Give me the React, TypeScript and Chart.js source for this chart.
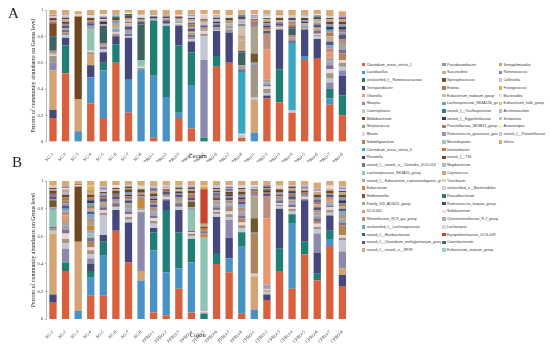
import React, { useEffect, useRef } from "react";
import { Chart, registerables } from "chart.js";
Chart.register(...registerables);

const samples = ["SG-1","SG-2","SG-3","SG-4","SG-5","SG-6","SG-7","SG-8","FPRO-1","FPRO-2","FPRO-3","FPRO-4","FPRO-5","FPRO-6","FPRO-7","FPRO-8","CPRO-1","CPRO-2","CPRO-3","CPRO-4","CPRO-5","CPRO-6","CPRO-7","CPRO-8"];
const yTickValues = [0, 20, 40, 60, 80, 100];
const panelTitles = ["Cecum", "Colon"];
const yTitle = "Percent of community abundance on Genus level";

const genera = [
  "Clostridium_sensu_stricto_1","Lactobacillus","unclassified_f__Ruminococcaceae","Terrisporobacter","Olsenella","Sharpea","Catenisphaera","Bifidobacterium","Streptococcus","Blautia","Subdoligranulum","Clostridium_sensu_stricto_6","Prevotella","norank_f__norank_o__Clostridia_UCG-014","Lachnospiraceae_NK3A20_group","norank_f__Eubacterium_coprostanoligenes_group","Eubacterium","Holdemanella","Family_XIII_AD3011_group","UCG-005","Rikenellaceae_RC9_gut_group","unclassified_f__Lachnospiraceae","norank_f__Muribaculaceae","norank_f__Clostridium_methylpentosum_group","norank_f__norank_o__RF39",
  "Pseudoramibacter","Succinivibrio","Syntrophococcus","Erwinia","Eubacterium_nodatum_group","Lachnospiraceae_NK4A136_group","norank_f__Oscillospiraceae","norank_f__Eggerthellaceae","Prevotellaceae_NK3B31_group","Ruminococcus_gauvreauii_group","Marvinbryantia","Intestinibacter","norank_f__T34","Mogibacterium","Coprococcus","Turicibacter","unclassified_o__Bacteroidales","Faecalibacterium","Ruminococcus_torques_group","Solobacterium","Christensenellaceae_R-7_group","Lachnospira","Erysipelotrichaceae_UCG-009","Catenibacterium","Eubacterium_siraeum_group",
  "Senegalimassilia","Ruminococcus","Collinsella","Frisingicoccus","Bacteroides","Eubacterium_hallii_group","Acetitomaculum","Schwartzia","Anaerostipes","norank_f__Prevotellaceae","others"
];

const genusColors = [
  "#d9603c","#4a92c6","#1f7f75","#46487c","#d3a373","#8d89ac","#c3c6d3","#70471f","#a29585","#ecd4d6","#b0845a","#3aa6c6","#2c4770","#7b6f90","#8fc3b3","#9da2b9","#c38a3e","#6e5a2c","#a9a38e","#e9956f","#b98d80","#72a9cc","#3d6462","#525784","#cbaa88",
  "#8b90b8","#c7ab92","#7c4b26","#b0785c","#d2bfaa","#6fa9a6","#2d7d88","#2e3c6c","#a8796c","#8e96b2","#a2c4c6","#bd7b48","#6b4823","#bab2cc","#c9a57f","#e5cbc3","#c8d6de","#2f7a66","#4d4c60","#f2dcdc","#a9adc2","#d6d6de","#c9442a","#3f6f5f","#92d2ca",
  "#c9a15e","#8b79c9","#c8c3da","#d9b24e","#ebe3da","#e2c26e","#b3bbcb","#aacadb","#f2f0b4","#cac2e2","#d8a878"
];

// Cecum (panel A), percent per sample
const cecumG01 = [18,52,0,29,18,60,22,0,3,0,18,10,0,57,60,3,0,33,30,22,62,63,28,20];
const cecumG02 = [0,0,8,20,36,0,25,55,47,34,4,33,0,0,0,0,7,0,0,0,3,0,5,0];
const cecumG03 = [0,21,0,0,6,14,0,0,42,54,51,25,3,8,0,0,0,0,25,0,0,0,7,15];
const cecumG04 = [6,6,0,9,8,6,32,0,0,0,15,8,0,19,23,0,0,2,30,0,20,15,0,15];
const cecumG05 = [30,0,24,8,0,0,0,0,0,0,0,0,0,0,0,0,25,0,0,0,0,0,0,0];
const cecumG06 = [6,0,0,0,0,0,0,0,0,0,0,0,59,0,0,0,0,0,0,0,0,0,5,4];
const cecumG07 = [0,2,0,0,2,0,1,0,0,1,0,2,18,1,0,2,2,2,0,2,0,2,3,3];
const cecumG08 = [0,0,63,0,0,0,0,0,0,0,0,0,0,0,0,0,0,0,0,0,0,0,0,0];
const cecumG09 = [5,2,0,2,0,2,0,1,0,0,1,1,2,0,2,0,23,3,1,0,1,1,4,3];
const cecumG10 = [1,0,0,1,0,1,0,1,0,0,1,0,2,0,0,1,0,2,1,0,0,1,3,2];
const cecumG11 = [0,0,0,0,0,0,0,0,0,0,0,0,0,0,0,0,0,0,0,0,0,0,0,5];
const cecumG12 = [0,0,0,0,0,0,0,0,0,0,0,0,0,0,0,47,0,0,0,51,0,0,0,0];
const cecumG13 = [0,0,0,0,0,0,0,0,0,0,0,0,0,0,0,0,0,0,0,0,0,0,0,0];
const cecumG14 = [0,2,0,0,2,0,2,0,0,1,0,2,0,1,0,2,1,1,0,2,0,2,3,3];
const cecumG15 = [0,0,0,16,0,0,0,5,0,0,0,0,0,0,0,0,0,0,0,0,0,0,0,0];
const cecumG16 = [1,0,0,0,1,0,2,0,1,0,1,0,1,0,1,1,2,2,0,1,1,0,3,2];
const cecumG17 = [0,0,0,0,0,0,0,0,0,0,0,0,0,0,0,0,0,0,0,0,0,0,0,0];
const cecumG18 = [0,0,0,0,0,0,0,0,0,0,0,0,0,0,0,0,7,0,0,0,0,0,0,0];
const cecumG19 = [0,1,0,2,0,1,0,0,0,0,0,2,0,1,0,2,20,2,0,1,0,2,3,3];
const cecumG20 = [0,0,0,0,0,0,0,0,0,0,0,0,0,0,0,0,0,23,0,0,0,0,4,0];
const cecumG21 = [2,0,0,0,2,0,1,0,1,0,0,1,2,0,1,0,1,12,1,2,0,1,3,3];
const cecumG22 = [0,0,0,1,0,2,0,0,0,0,1,0,0,0,1,0,0,0,0,0,1,0,2,0];
const cecumG23 = [11,0,0,0,12,0,0,27,0,0,0,0,0,0,0,10,0,0,0,5,0,0,0,0];
const cecumG24 = [0,2,0,2,1,0,2,2,0,2,0,2,1,2,0,1,1,2,2,1,0,2,3,3];
const cecumG25 = [0,0,0,0,0,2,0,0,0,0,1,0,0,0,2,8,0,0,0,0,2,0,2,0];
const cecumG26 = [0,0,0,0,0,0,1,0,0,0,0,0,1,0,0,0,0,0,1,0,0,0,0,2];
const cecumG27 = [0,0,0,0,1,0,0,0,0,0,0,1,0,0,0,2,0,1,0,0,0,0,2,0];
const cecumG28 = [10,0,0,0,0,0,0,0,0,0,0,0,0,0,0,0,0,0,0,0,0,0,0,0];
const cecumG29 = [1,1,0,1,0,1,0,1,0,1,0,2,0,1,0,1,2,2,0,2,0,1,3,2];
const cecumG30 = [0,0,1,0,0,0,2,0,0,0,0,0,2,0,0,8,0,0,1,0,0,0,0,0];
const cecumG31 = [0,0,0,0,0,1,0,0,0,0,0,0,0,0,0,0,0,0,0,0,0,0,2,0];
const cecumG32 = [0,0,0,0,0,0,0,0,0,0,0,0,0,0,0,0,0,0,0,0,0,0,0,0];
const cecumG33 = [0,1,0,0,2,0,0,0,1,0,0,1,0,1,0,1,0,1,0,0,1,0,2,2];
const cecumG34 = [0,0,0,1,0,0,1,0,0,0,0,0,1,0,0,0,1,0,0,1,0,0,0,0];
const cecumG35 = [1,0,0,0,0,2,0,1,0,0,1,0,0,0,1,0,0,2,0,0,1,0,2,2];
const cecumG36 = [0,0,0,0,0,0,0,0,0,0,0,1,0,0,0,1,0,0,0,0,0,1,0,0];
const cecumG37 = [0,0,0,0,1,0,0,0,0,0,0,0,0,0,1,0,0,0,0,1,0,0,0,0];
const cecumG38 = [2,1,0,2,0,2,0,1,0,0,1,0,1,0,2,0,1,1,2,0,2,0,2,2];
const cecumG39 = [0,0,0,0,0,0,1,0,0,1,0,0,0,2,0,2,0,0,0,1,0,0,0,0];
const cecumG40 = [0,2,0,0,0,0,2,0,0,0,0,2,0,0,0,1,0,2,0,0,0,2,2,2];
const cecumG41 = [1,0,0,0,1,0,0,0,1,0,0,0,2,0,0,0,1,0,1,0,0,0,0,0];
const cecumG42 = [0,0,0,1,0,0,0,1,0,0,0,0,0,0,1,0,0,0,0,0,1,0,0,0];
const cecumG43 = [0,0,0,0,0,1,0,0,0,0,0,0,0,0,0,0,0,1,0,0,0,0,0,0];
const cecumG44 = [0,1,0,0,1,0,2,0,0,1,0,1,0,1,0,2,0,0,0,2,0,1,1,1];
const cecumG45 = [0,0,1,0,0,0,0,0,0,0,1,0,0,0,0,0,0,1,0,0,0,0,0,0];
const cecumG46 = [0,1,0,0,0,1,0,0,1,0,0,0,0,1,0,0,1,0,0,0,1,0,0,0];
const cecumG47 = [0,0,0,1,0,0,0,1,0,0,0,1,0,0,1,0,0,0,1,0,0,0,1,0];
const cecumG48 = [0,0,0,0,0,0,0,0,0,0,0,0,0,0,0,0,0,0,0,0,0,0,0,0];
const cecumG49 = [0,0,0,0,0,0,1,0,0,0,0,0,0,0,0,1,0,0,0,0,0,1,0,0];
const cecumG50 = [0,0,0,0,0,0,0,0,0,0,0,0,0,0,0,0,0,1,0,0,0,0,0,0];
const cecumG51 = [0,0,0,1,0,0,0,0,0,1,0,0,0,1,0,0,0,0,1,0,0,0,1,0];
const cecumG52 = [1,0,0,0,1,0,0,0,0,0,0,1,0,0,0,0,1,0,0,0,0,1,0,1];
const cecumG53 = [0,1,0,0,0,0,0,1,0,0,0,0,1,0,0,0,0,1,0,1,0,0,0,0];
const cecumG54 = [0,0,0,0,0,0,0,0,0,0,0,0,0,0,1,0,0,0,0,0,0,0,0,0];
const cecumG55 = [0,0,0,0,2,0,0,0,0,0,0,0,0,1,0,0,1,0,0,0,0,0,0,0];
const cecumG56 = [1,0,0,0,0,0,0,0,0,0,1,0,0,0,0,0,0,0,0,1,0,0,0,0];
const cecumG57 = [0,1,0,0,0,1,0,0,0,1,0,0,0,0,0,1,0,0,0,0,1,0,0,0];
const cecumG58 = [0,0,0,0,0,0,0,0,0,0,0,1,0,0,0,0,0,0,0,0,0,0,0,0];
const cecumG59 = [0,0,0,0,0,0,1,0,0,0,0,0,1,0,0,0,0,0,0,0,0,1,0,0];
const cecumG60 = [0,0,0,0,0,0,0,0,0,0,0,0,0,0,0,0,0,0,0,0,0,0,0,0];
const cecumG61 = [3,3,2,3,3,3,2,3,3,3,3,3,3,3,3,3,3,3,3,4,3,3,4,4];

// Colon (panel B), percent per sample
const colonG01 = [12,35,0,17,17,64,41,0,5,3,22,5,0,40,34,4,0,14,35,22,47,28,53,24];
const colonG02 = [0,0,6,13,29,0,0,28,45,31,15,36,0,0,10,49,7,0,0,47,0,0,5,0];
const colonG03 = [0,6,0,5,10,0,0,0,13,45,26,17,4,8,0,10,0,0,16,7,9,5,6,0];
const colonG04 = [6,0,0,5,5,15,29,0,3,7,16,0,0,26,15,0,0,4,29,0,30,15,11,8];
const colonG05 = [44,0,50,0,0,0,0,7,0,0,0,0,0,0,0,0,24,0,0,0,0,0,0,5];
const colonG06 = [0,10,0,4,0,0,0,42,0,0,0,0,0,0,13,0,0,0,0,0,0,14,0,12];
const colonG07 = [2,4,0,3,14,2,2,0,3,0,2,2,0,2,2,3,1,2,2,2,0,3,2,8];
const colonG08 = [0,0,40,0,0,0,0,0,0,0,0,0,0,0,0,0,0,0,0,0,0,0,0,0];
const colonG09 = [2,3,0,3,2,1,2,1,2,1,1,2,1,2,2,2,0,1,1,2,1,2,2,2];
const colonG10 = [0,4,1,2,2,0,2,1,2,1,0,1,1,1,2,2,1,1,1,1,1,2,2,2];
const colonG11 = [0,0,0,4,0,0,0,0,0,0,0,0,0,0,2,3,29,0,0,0,0,2,0,7];
const colonG12 = [0,0,0,0,0,0,0,0,0,0,0,0,0,0,0,0,0,0,0,0,0,0,0,0];
const colonG13 = [0,0,0,0,0,0,0,0,0,0,0,0,0,0,0,0,0,0,0,0,0,0,0,0];
const colonG14 = [1,3,0,3,2,2,2,0,2,0,2,1,0,2,1,2,1,1,2,2,0,2,1,2];
const colonG15 = [12,0,0,3,0,0,0,0,0,0,0,15,53,0,0,0,0,0,0,0,0,0,0,0];
const colonG16 = [2,3,0,2,1,1,2,1,2,1,1,2,0,2,2,2,0,2,1,1,1,2,2,2];
const colonG17 = [0,0,0,4,0,0,0,7,0,0,0,0,2,0,0,0,0,0,0,0,0,0,0,0];
const colonG18 = [5,0,0,0,0,0,0,0,0,0,0,4,0,0,0,0,10,0,0,0,0,0,0,0];
const colonG19 = [0,3,0,3,2,0,2,0,2,0,2,0,0,2,1,2,16,0,0,2,0,2,1,2];
const colonG20 = [0,4,0,0,0,0,0,0,0,0,0,0,0,0,0,0,0,48,0,0,0,0,2,0];
const colonG21 = [1,3,0,2,1,2,1,2,2,1,1,1,1,1,2,2,1,16,2,1,1,2,1,2];
const colonG22 = [0,2,0,3,0,0,1,0,0,0,0,0,0,0,0,2,0,0,0,0,0,0,0,2];
const colonG23 = [0,0,0,0,0,0,0,0,0,0,0,0,0,0,0,0,0,0,0,0,0,0,0,0];
const colonG24 = [2,2,0,2,2,2,2,1,2,2,2,2,1,2,2,2,1,2,1,2,1,2,2,2];
const colonG25 = [0,0,0,2,0,0,0,0,0,0,0,0,0,0,0,0,0,0,0,0,0,2,0,2];
const colonG26 = [0,2,0,0,0,0,0,0,1,0,0,0,0,0,0,0,0,0,0,0,0,0,0,0];
const colonG27 = [0,0,0,0,0,0,1,0,0,0,0,0,0,0,0,0,0,0,0,0,0,0,0,0];
const colonG28 = [0,0,0,0,0,0,0,0,0,0,0,0,0,0,0,0,0,0,0,0,0,0,0,0];
const colonG29 = [1,2,1,2,1,1,2,1,2,1,1,2,1,2,1,2,1,1,1,2,1,2,1,2];
const colonG30 = [0,0,0,0,0,0,0,0,0,0,0,0,0,0,0,0,0,0,0,0,0,0,0,0];
const colonG31 = [0,0,0,2,0,0,0,0,0,0,0,0,0,0,0,0,0,0,0,0,0,0,0,0];
const colonG32 = [0,0,0,0,0,0,0,0,0,0,0,0,0,0,0,0,0,0,0,0,0,0,0,0];
const colonG33 = [1,0,0,2,1,1,1,0,1,0,1,0,0,1,1,1,0,1,0,1,0,1,0,2];
const colonG34 = [0,2,0,0,0,0,0,1,0,0,0,1,0,0,0,0,0,0,0,0,0,0,0,0];
const colonG35 = [0,0,0,0,2,0,2,0,2,0,0,0,0,1,0,2,1,0,1,0,0,2,0,2];
const colonG36 = [0,0,0,0,0,0,0,0,0,0,0,0,0,0,0,0,0,0,0,0,0,0,0,0];
const colonG37 = [0,0,0,2,0,0,0,0,0,0,1,0,2,0,0,0,0,0,0,0,0,0,0,0];
const colonG38 = [2,2,0,2,1,2,2,2,2,1,0,2,1,1,2,2,1,1,2,1,1,2,2,2];
const colonG39 = [0,2,0,0,0,0,0,0,0,0,1,0,0,0,0,0,0,0,0,0,0,0,0,0];
const colonG40 = [1,2,0,2,0,1,1,0,2,0,0,1,2,1,1,2,0,1,0,2,1,2,1,2];
const colonG41 = [0,0,0,0,1,0,0,0,0,1,0,0,0,0,0,0,1,0,1,0,0,0,1,0];
const colonG42 = [0,0,0,0,0,0,0,1,0,0,0,0,0,0,0,0,0,0,0,0,0,0,0,0];
const colonG43 = [0,0,0,0,0,0,0,0,0,0,0,0,0,0,0,0,0,0,0,0,0,0,0,0];
const colonG44 = [1,0,0,0,0,1,1,0,1,0,1,1,0,1,1,1,0,1,0,1,0,0,0,1];
const colonG45 = [0,1,0,0,0,0,0,0,0,0,0,0,0,0,0,0,0,0,0,0,0,0,1,0];
const colonG46 = [0,0,0,0,1,0,0,0,0,1,0,0,0,0,1,0,1,0,0,0,1,0,0,0];
const colonG47 = [0,0,0,0,0,1,0,1,0,0,0,0,0,0,0,1,0,0,1,0,0,1,0,1];
const colonG48 = [0,0,0,0,0,0,0,0,0,0,0,0,25,0,0,0,0,0,0,0,0,0,0,0];
const colonG49 = [0,0,0,0,0,0,0,0,0,0,0,0,0,0,0,0,0,0,0,0,0,0,0,0];
const colonG50 = [0,0,0,0,0,0,0,0,0,0,0,0,0,0,0,0,0,0,0,0,0,0,0,0];
const colonG51 = [0,0,0,2,0,0,0,0,0,0,1,0,1,0,0,0,0,0,0,0,0,0,0,0];
const colonG52 = [0,1,0,0,1,0,0,0,1,0,0,1,0,0,1,0,0,1,0,0,1,1,0,1];
const colonG53 = [1,0,0,0,0,0,1,0,0,1,0,0,0,1,0,1,0,0,0,1,0,0,1,0];
const colonG54 = [0,0,0,2,0,0,0,0,0,0,0,0,1,0,0,0,0,0,0,0,0,0,0,0];
const colonG55 = [0,0,0,0,0,1,0,0,0,0,0,0,0,0,1,0,1,0,0,0,0,0,0,0];
const colonG56 = [1,0,0,1,0,0,0,1,0,0,0,1,1,0,0,0,0,0,1,0,0,1,0,0];
const colonG57 = [0,0,0,0,1,0,0,0,1,0,0,0,0,1,0,0,0,0,0,0,1,0,0,1];
const colonG58 = [0,0,0,0,0,0,0,0,0,0,1,0,0,0,0,0,0,0,0,0,0,0,0,0];
const colonG59 = [0,0,0,0,0,0,0,0,0,0,0,0,0,0,0,0,0,0,0,0,0,0,0,0];
const colonG60 = [0,0,0,0,0,0,0,0,0,0,0,0,0,0,0,0,0,0,0,0,0,0,0,0];
const colonG61 = [3,4,2,3,4,3,3,3,4,3,3,3,3,3,3,3,3,3,3,3,3,4,3,4];

const cecumSeries = [cecumG01,cecumG02,cecumG03,cecumG04,cecumG05,cecumG06,cecumG07,cecumG08,cecumG09,cecumG10,cecumG11,cecumG12,cecumG13,cecumG14,cecumG15,cecumG16,cecumG17,cecumG18,cecumG19,cecumG20,cecumG21,cecumG22,cecumG23,cecumG24,cecumG25,cecumG26,cecumG27,cecumG28,cecumG29,cecumG30,cecumG31,cecumG32,cecumG33,cecumG34,cecumG35,cecumG36,cecumG37,cecumG38,cecumG39,cecumG40,cecumG41,cecumG42,cecumG43,cecumG44,cecumG45,cecumG46,cecumG47,cecumG48,cecumG49,cecumG50,cecumG51,cecumG52,cecumG53,cecumG54,cecumG55,cecumG56,cecumG57,cecumG58,cecumG59,cecumG60,cecumG61];
const colonSeries = [colonG01,colonG02,colonG03,colonG04,colonG05,colonG06,colonG07,colonG08,colonG09,colonG10,colonG11,colonG12,colonG13,colonG14,colonG15,colonG16,colonG17,colonG18,colonG19,colonG20,colonG21,colonG22,colonG23,colonG24,colonG25,colonG26,colonG27,colonG28,colonG29,colonG30,colonG31,colonG32,colonG33,colonG34,colonG35,colonG36,colonG37,colonG38,colonG39,colonG40,colonG41,colonG42,colonG43,colonG44,colonG45,colonG46,colonG47,colonG48,colonG49,colonG50,colonG51,colonG52,colonG53,colonG54,colonG55,colonG56,colonG57,colonG58,colonG59,colonG60,colonG61];

const SERIF = '"Liberation Serif", "Times New Roman", Times, serif';
const SANS = '"Liberation Sans", Arial, sans-serif';

type PanelProps = {
  series: number[][];
  title: string;
  top: number;
  height: number;
  padTop: number;
  axisHeight: number;
  titlePadBottom: number;
};

function Panel({ series, title, top, height, padTop, axisHeight, titlePadBottom }: PanelProps) {
  const ref = useRef<HTMLCanvasElement>(null);
  useEffect(() => {
    if (!ref.current) return;
    const chart = new Chart(ref.current, {
      type: "bar",
      data: {
        labels: samples,
        datasets: genera.map((g, i) => ({
          label: g,
          data: series[i],
          backgroundColor: genusColors[i],
          borderWidth: 0,
          barPercentage: 0.58,
          categoryPercentage: 1,
          clip: 0,
        })),
      },
      options: {
        responsive: false,
        animation: false,
        devicePixelRatio: 1,
        layout: { padding: { left: 29.7, right: 3.3, top: padTop, bottom: 0 } },
        plugins: { legend: { display: false }, tooltip: { enabled: false } },
        scales: {
          x: {
            stacked: true,
            grid: { display: false },
            border: { display: false },
            ticks: {
              autoSkip: false,
              maxRotation: 45,
              minRotation: 45,
              padding: 2,
              color: "#333",
              font: { family: SERIF, size: 4.5 },
            },
            title: {
              display: true,
              text: title,
              color: "#222",
              font: { family: SERIF, size: 6.5 },
              padding: { top: 0, bottom: titlePadBottom },
            },
            afterFit: (s: any) => { s.height = axisHeight; },
          },
          y: {
            stacked: true,
            min: 0,
            max: 100,
            afterBuildTicks: (s: any) => { s.ticks = yTickValues.map((v) => ({ value: v })); },
            ticks: {
              color: "#333",
              padding: 1.5,
              font: { family: SERIF, size: 4.5 },
              callback: (v: any) => String(Number(v) / 100),
            },
            grid: { display: true, drawOnChartArea: false, drawTicks: true, tickLength: 2, color: "#777", lineWidth: 0.5 },
            border: { display: true, color: "#777", width: 0.5 },
            title: {
              display: true,
              text: yTitle,
              color: "#222",
              font: { family: SERIF, size: 5.8 },
              padding: { top: 0, bottom: 0 },
            },
            afterFit: (s: any) => { s.width = 17; },
          },
        },
      } as any,
    });
    return () => chart.destroy();
  }, []);
  return (
    <canvas
      ref={ref}
      width={352}
      height={height}
      style={{ position: "absolute", left: 0, top, width: 352, height }}
    />
  );
}

const legendColumns = [
  { start: 0, end: 25, x: 361.7, width: 79 },
  { start: 25, end: 50, x: 442, width: 56 },
  { start: 50, end: 61, x: 498.5, width: 51 },
];

function Legend() {
  const items: React.ReactNode[] = [];
  legendColumns.forEach((col) => {
    for (let i = col.start; i < col.end; i++) {
      const row = i - col.start;
      const cy = 64.7 + row * 7.72;
      items.push(
        <div
          key={i}
          style={{
            position: "absolute",
            left: col.x,
            top: cy - 3,
            width: col.width,
            height: 6,
            overflow: "hidden",
            whiteSpace: "nowrap",
            fontFamily: SANS,
            fontSize: 3.6,
            lineHeight: "6px",
            color: "#333",
          }}
        >
          <span
            style={{
              position: "absolute",
              left: 0,
              top: 1.25,
              width: 3.5,
              height: 3.5,
              background: genusColors[i],
            }}
          />
          <span style={{ position: "absolute", left: 5, top: 0 }}>{genera[i]}</span>
        </div>
      );
    }
  });
  return <>{items}</>;
}

export default function App() {
  return (
    <div
      style={{
        position: "absolute",
        left: 0,
        top: 0,
        width: 550,
        height: 346,
        background: "#fff",
        overflow: "hidden",
      }}
    >
      <Panel series={cecumSeries} title={panelTitles[0]} top={0} height={162} padTop={10} axisHeight={20.3} titlePadBottom={2} />
      <Panel series={colonSeries} title={panelTitles[1]} top={170} height={176} padTop={11} axisHeight={26.7} titlePadBottom={7} />
      <div style={{ position: "absolute", left: 8, top: 5.6, fontFamily: SERIF, fontSize: 15, lineHeight: "15px", color: "#222" }}>A</div>
      <div style={{ position: "absolute", left: 12, top: 154.6, fontFamily: SERIF, fontSize: 15, lineHeight: "15px", color: "#222" }}>B</div>
      <Legend />
    </div>
  );
}
